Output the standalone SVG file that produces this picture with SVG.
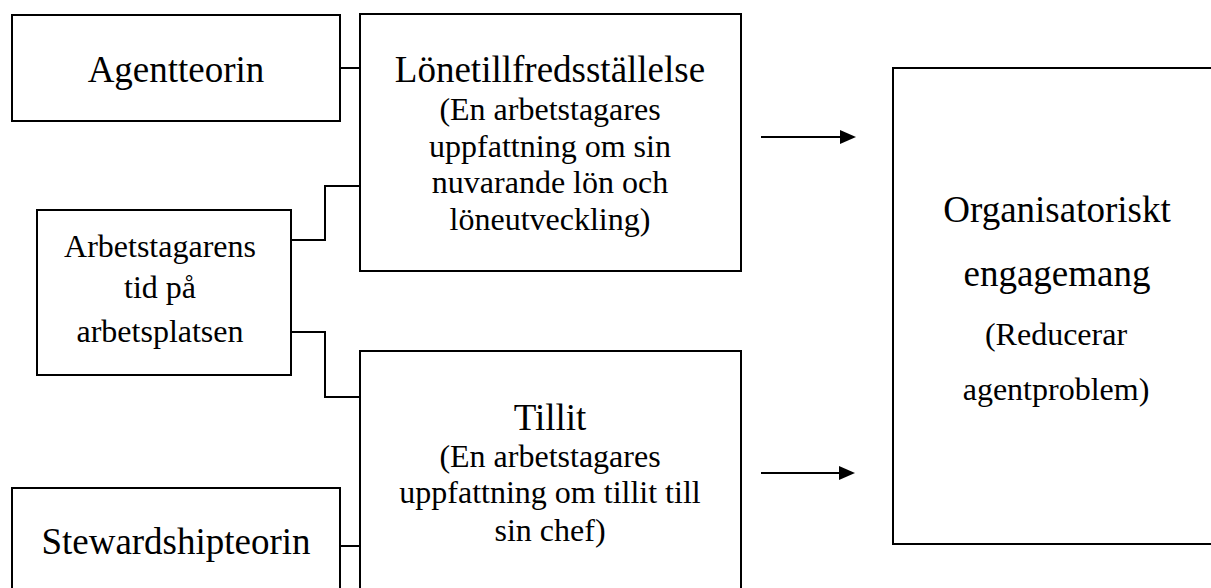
<svg xmlns="http://www.w3.org/2000/svg" width="1211" height="588" viewBox="0 0 1211 588">
<style>
.box{fill:#fff;stroke:#000;stroke-width:2}
.c{fill:none;stroke:#000;stroke-width:2}
text{fill:#000;text-anchor:middle}
.big{font-size:37px}
.sm{font-size:32px}
</style>
<rect width="1211" height="588" fill="#fff"/>
<g id="connectors">
<path class="c" d="M340,68 H360"/>
<path class="c" d="M291,240 H325 V186 H360"/>
<path class="c" d="M291,332 H325 V397 H360"/>
<path class="c" d="M340,546 H360"/>
<path class="c" d="M761,137 H842"/>
<polygon points="840,130 856,137 840,144"/>
<path class="c" d="M761,473 H841"/>
<polygon points="839,466 855,473 839,480"/>
</g>
<g font-family="Liberation Serif, DejaVu Serif, serif">
<g id="agentteorin">
<rect class="box" x="12" y="15" width="328" height="106"/>
<text class="big" x="176" y="82">Agentteorin</text>
</g>
<g id="lonetillfredsstallelse">
<rect class="box" x="360" y="14" width="381" height="257"/>
<text class="big" x="550" y="82">Lönetillfredsställelse</text>
<text class="sm" x="550" y="120">(En arbetstagares</text>
<text class="sm" x="550" y="157">uppfattning om sin</text>
<text class="sm" x="550" y="193">nuvarande lön och</text>
<text class="sm" x="550" y="230">löneutveckling)</text>
</g>
<g id="arbetstagarens-tid">
<rect class="box" x="37" y="210" width="254" height="165"/>
<text class="sm" x="160" y="257">Arbetstagarens</text>
<text class="sm" x="160" y="298">tid på</text>
<text class="sm" x="160" y="342">arbetsplatsen</text>
</g>
<g id="tillit">
<rect class="box" x="360" y="351" width="381" height="250"/>
<text class="big" x="550" y="430">Tillit</text>
<text class="sm" x="550" y="467">(En arbetstagares</text>
<text class="sm" x="550" y="503">uppfattning om tillit till</text>
<text class="sm" x="550" y="541">sin chef)</text>
</g>
<g id="stewardshipteorin">
<rect class="box" x="12" y="488" width="328" height="120"/>
<text class="big" x="176" y="554">Stewardshipteorin</text>
</g>
<g id="organisatoriskt-engagemang">
<rect class="box" x="893" y="68" width="330" height="476"/>
<text class="big" x="1057" y="222">Organisatoriskt</text>
<text class="big" x="1057" y="286">engagemang</text>
<text class="sm" x="1056" y="345">(Reducerar</text>
<text class="sm" x="1056" y="400">agentproblem)</text>
</g>
</g>
</svg>
